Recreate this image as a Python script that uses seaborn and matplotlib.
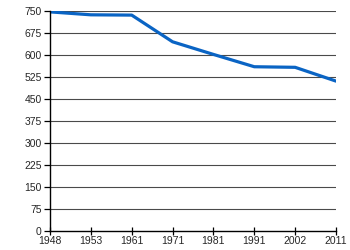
import matplotlib
matplotlib.use("Agg")
import matplotlib.pyplot as plt
import seaborn as sns
import pandas as pd

years = ["1948", "1953", "1961", "1971", "1981", "1991", "2002", "2011"]
population = [747, 737, 736, 645, 602, 560, 558, 511]
yticks = [0, 75, 150, 225, 300, 375, 450, 525, 600, 675, 750]

sns.set_style("white")
plt.rcParams["font.family"] = ["Liberation Sans", "DejaVu Sans"]

df = pd.DataFrame({"year": years, "pop": population})

fig = plt.figure(figsize=(3.5, 2.5), dpi=100)
ax = fig.add_axes([50/350, 19/250, 286/350, 220/250])
sns.lineplot(data=df, x="year", y="pop", ax=ax, color="#0a64c4", linewidth=2.3, sort=False)

ax.set_xlim(0, len(years) - 1)
ax.set_ylim(0, 750)
ax.set_yticks(yticks)
ax.set_yticklabels([str(t) for t in yticks])
ax.set_xlabel("")
ax.set_ylabel("")
for y in yticks[1:]:
    ax.axhline(y, color="#4a4a4a", linewidth=0.8, zorder=0)
for s in ["top", "right"]:
    ax.spines[s].set_visible(False)
for s in ["left", "bottom"]:
    ax.spines[s].set_color("black")
    ax.spines[s].set_linewidth(1.0)
ax.tick_params(axis="y", direction="out", length=4, width=0.9, color="black", labelsize=7.5, pad=2, left=True)
ax.tick_params(axis="x", direction="inout", length=6, width=0.9, color="black", labelsize=7.5, pad=0.5, bottom=True)
fig.savefig("out.png", dpi=100, facecolor="white")
